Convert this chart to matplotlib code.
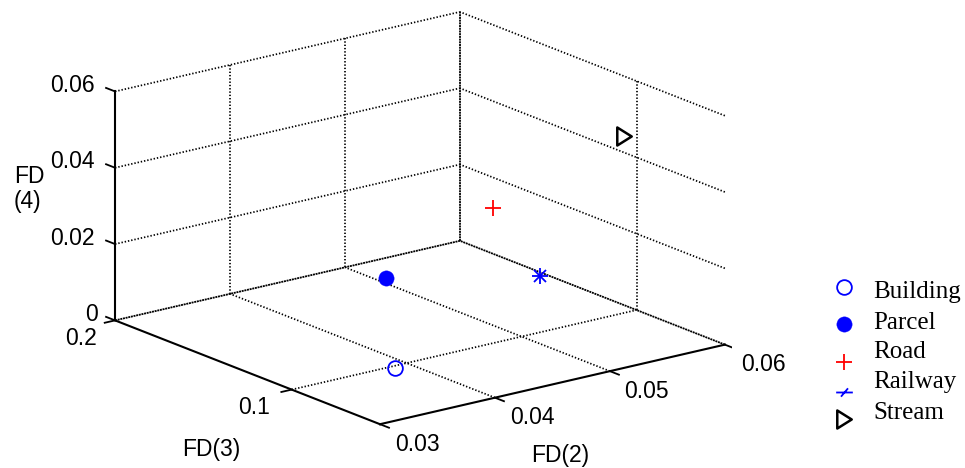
import matplotlib
matplotlib.use('Agg')
import matplotlib.pyplot as plt
from matplotlib.lines import Line2D
from matplotlib.path import Path

plt.rcParams['font.family'] = ['Liberation Sans', 'DejaVu Sans']

W, H = 965, 468

# axis limits and ticks
fd2_lim = [0.03, 0.06]
fd3_lim = [0.05, 0.2]
fd4_lim = [0, 0.06]
fd2_ticks = [0.03, 0.04, 0.05, 0.06]
fd3_ticks = [0.1, 0.2]
fd4_ticks = [0, 0.02, 0.04, 0.06]

# points
names = ['Building', 'Parcel', 'Road', 'Railway', 'Stream']
fd2 = [0.0386, 0.0507, 0.0571, 0.0594, 0.06]
fd3 = [0.0977, 0.1816, 0.1625, 0.151, 0.1072]
fd4 = [0, 0, 0.0173, 0, 0.04425]


def fx(x):
    return x / W


def fy(y):
    return 1 - y / H


# axes box placed in pixels, the projected box then lands on the MATLAB one
side = 641
fig = plt.figure(figsize=(W / 100, H / 100), dpi=100)
ax = fig.add_axes([fx(90.8), fy(547.2), side / W, side / H], projection='3d')
ax.set_proj_type('ortho')
ax.view_init(elev=17.5, azim=-127.5)
ax.set_box_aspect((434.8, 435.3, 240.1))
ax.set_xlim(fd2_lim)
ax.set_ylim(fd3_lim)
ax.set_zlim(fd4_lim)
ax.set_axis_off()
ax.computed_zorder = False

x0, x1 = fd2_lim
y0, y1 = fd3_lim
z0, z1 = fd4_lim
dots = dict(color='black', lw=1.25, ls=(0, (0.8, 1.1)), zorder=1)
dense = dict(color='black', lw=1.3, ls=(0, (1.1, 0.4)), zorder=1)
solid = dict(color='black', lw=1.5, zorder=2)

# grid on the floor and the two back walls
for t in fd2_ticks[1:3]:
    ax.plot([t, t], [y0, y1], [z0, z0], **dots)
    ax.plot([t, t], [y1, y1], [z0, z1], **dots)
for t in fd3_ticks[:1]:
    ax.plot([x0, x1], [t, t], [z0, z0], **dots)
    ax.plot([x1, x1], [t, t], [z0, z1], **dots)
for t in fd4_ticks[1:]:
    ax.plot([x0, x1], [y1, y1], [t, t], **dots)
    ax.plot([x1, x1], [y0, y1], [t, t], **dots)

# back edges
ax.plot([x1, x1], [y1, y1], [z0, z1], **dense)
ax.plot([x0, x1], [y1, y1], [z0, z0], **dense)
ax.plot([x1, x1], [y0, y1], [z0, z0], **dense)

# main axes
ax.plot([x0, x1], [y0, y0], [z0, z0], **solid)
ax.plot([x0, x0], [y0, y1], [z0, z0], **solid)
ax.plot([x0, x0], [y1, y1], [z0, z1], **solid)

# ticks
ty = 0.034 * (y1 - y0)
tx = 0.03 * (x1 - x0)
tick = dict(color='black', lw=1.3, zorder=2)
for t in fd2_ticks:
    ax.plot([t, t], [y0, y0 - ty], [z0, z0], **tick)
for t in fd3_ticks:
    ax.plot([x0, x0 - tx], [t, t], [z0, z0], **tick)
for t in fd4_ticks:
    ax.plot([x0, x0], [y1, y1 + ty], [t, t], **tick)

# markers
triangle = Path([(-0.8, 1), (0.8, 0), (-0.8, -1), (-0.8, 1)], closed=True)
railway_mark = Path([(-1, 0), (1, 0), (-0.42, -0.5), (0.42, 0.5)],
                    [Path.MOVETO, Path.LINETO, Path.MOVETO, Path.LINETO])

styles = [
    dict(marker='o', ms=10.6, mfc='none', mec='#0000ff', mew=1.3),
    dict(marker='o', ms=11, mfc='#0000ff', mec='#0000ff', mew=0.3),
    dict(marker='+', ms=12, mec='#ff0000', mew=1.3),
    dict(marker='+', ms=12, mec='#0000ff', mew=1.3),
    dict(marker=triangle, ms=13, mfc='none', mec='black', mew=1.8),
]
legend_styles = list(styles)
legend_styles[3] = dict(marker=railway_mark, ms=12, mfc='none', mec='#0000ff', mew=1.3)

for i in range(len(names)):
    ax.plot([fd2[i]], [fd3[i]], [fd4[i]], ls='none', zorder=4, **styles[i])
ax.plot([fd2[3]], [fd3[3]], [fd4[3]], ls='none', zorder=4, marker='x', ms=8,
        mec='#0000ff', mew=1.3)

# tick labels, in pixels
sans = dict(fontsize=16.5, color='black', va='baseline')
for s, x, y in [('0.06', 95, 92), ('0.04', 95, 168), ('0.02', 95, 245),
                ('0', 98, 321), ('0.2', 96.5, 345), ('0.1', 270, 414)]:
    fig.text(fx(x), fy(y), s, ha='right', **sans)
for s, x, y in [('0.03', 395, 451), ('0.04', 510, 424), ('0.05', 624, 398),
                ('0.06', 741, 371), ('FD(3)', 182, 456), ('FD(2)', 531, 462)]:
    fig.text(fx(x), fy(y), s, ha='left', **sans)
fig.text(fx(14), fy(208), 'FD\n(4)', ha='left', linespacing=1.1, **sans)

# hand placed legend, the rows are not evenly spaced
legend_y = [287, 324, 362, 392, 419]
text_y = [298, 329, 358, 388, 419]
for name, st, my, ty_ in zip(names, legend_styles, legend_y, text_y):
    fig.add_artist(Line2D([fx(844)], [fy(my)], transform=fig.transFigure, ls='none', **st))
    fig.text(fx(873), fy(ty_), name, family='Liberation Serif', fontsize=18,
             color='black', ha='left', va='baseline')

fig.savefig('out.png', dpi=100)
